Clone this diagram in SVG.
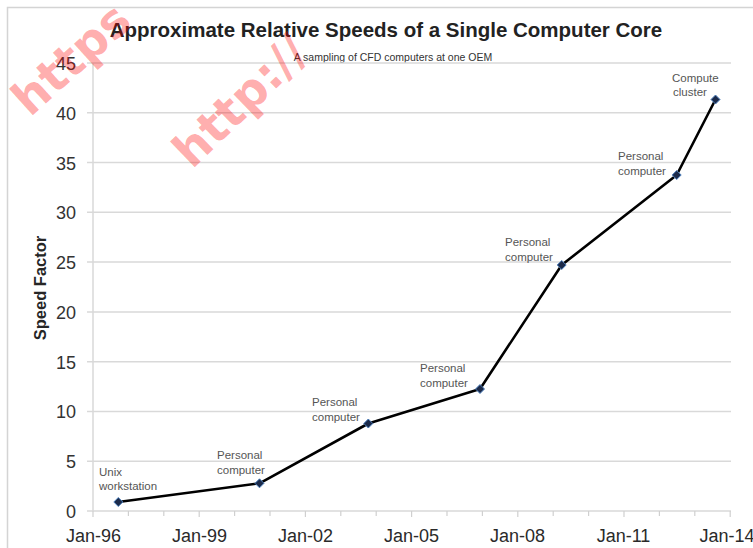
<svg xmlns="http://www.w3.org/2000/svg" width="753" height="548" viewBox="0 0 753 548">
<style>
.grid{stroke:#d9d9d9;stroke-width:1.5;fill:none}
.tick{stroke:#d0d0d0;stroke-width:1.2}
.ylab{font-family:"Liberation Sans",Arial,sans-serif;font-size:18px;fill:#333;text-anchor:end}
.xlab{font-family:"Liberation Sans",Arial,sans-serif;font-size:18px;fill:#2a2a2a;text-anchor:middle}
.dlab{font-family:"Liberation Sans",Arial,sans-serif;font-size:11.5px;fill:#555}
.wm{font-family:"DejaVu Sans",sans-serif;font-weight:bold;font-size:47px;fill:#ff0000;fill-opacity:0.33}
.series{fill:none;stroke:#000;stroke-width:2.6;stroke-linejoin:round;stroke-linecap:round}
</style>
<defs>
<path id="dia" d="M0,-4.5 L4.5,0 L0,4.5 L-4.5,0 Z" fill="#1b2a4a" stroke="#4f81bd" stroke-width="1"/>
</defs>
<rect width="753" height="548" fill="#fff"/>
<rect x="7.5" y="7.5" width="800" height="600" fill="none" stroke="#d4d4d4" stroke-width="1.5"/>

<g id="title">
<text x="386" y="37" text-anchor="middle" font-family="'Liberation Sans',Arial,sans-serif" font-weight="bold" font-size="20.5" fill="#222">Approximate Relative Speeds of a Single Computer Core</text>
<text x="393" y="60.5" text-anchor="middle" font-family="'Liberation Sans',Arial,sans-serif" font-size="10.5" fill="#333">A sampling of CFD computers at one OEM</text>
</g>

<g id="gridlines">
<path class="grid" d="M87,63H731M87,112.8H731M87,162.5H731M87,212.3H731M87,262.1H731M87,311.9H731M87,361.7H731M87,411.4H731M87,461.2H731M87,511H731"/>
<path class="grid" d="M93,63V511"/>
<path class="tick" d="M93,511V517M128.4,511V516M163.8,511V516M199.2,511V517M234.6,511V516M270,511V516M305.4,511V517M340.8,511V516M376.2,511V516M411.6,511V517M447,511V516M482.4,511V516M517.8,511V517M553.2,511V516M588.6,511V516M624,511V517M659.4,511V516M694.8,511V516M730.2,511V517"/>
</g>

<g id="y-axis">
<text class="ylab" x="76" y="70">45</text>
<text class="ylab" x="76" y="119.8">40</text>
<text class="ylab" x="76" y="169.5">35</text>
<text class="ylab" x="76" y="219.3">30</text>
<text class="ylab" x="76" y="269.1">25</text>
<text class="ylab" x="76" y="318.9">20</text>
<text class="ylab" x="76" y="368.7">15</text>
<text class="ylab" x="76" y="418.4">10</text>
<text class="ylab" x="76" y="468.2">5</text>
<text class="ylab" x="76" y="518">0</text>
<text transform="translate(46,288) rotate(-90)" text-anchor="middle" font-family="'Liberation Sans',Arial,sans-serif" font-weight="bold" font-size="16.5" fill="#262626">Speed Factor</text>
</g>

<g id="x-axis">
<text class="xlab" x="93.5" y="542">Jan-96</text>
<text class="xlab" x="199.5" y="542">Jan-99</text>
<text class="xlab" x="305.5" y="542">Jan-02</text>
<text class="xlab" x="411.5" y="542">Jan-05</text>
<text class="xlab" x="517.5" y="542">Jan-08</text>
<text class="xlab" x="623.5" y="542">Jan-11</text>
<text class="xlab" x="727" y="542">Jan-14</text>
</g>

<g id="connectors">
<polyline class="series" points="118.3,502 259.5,483.3 368.3,423.5 480,389 561.7,265 676.7,175 715.5,99.5"/>
</g>

<g id="p1"><use href="#dia" x="118.3" y="502"/><text class="dlab" x="99" y="476">Unix</text><text class="dlab" x="99" y="490">workstation</text></g>
<g id="p2"><use href="#dia" x="259.5" y="483.3"/><text class="dlab" x="217" y="459">Personal</text><text class="dlab" x="217" y="474">computer</text></g>
<g id="p3"><use href="#dia" x="368.3" y="423.5"/><text class="dlab" x="312" y="406">Personal</text><text class="dlab" x="312" y="421">computer</text></g>
<g id="p4"><use href="#dia" x="480" y="389"/><text class="dlab" x="420" y="372">Personal</text><text class="dlab" x="420" y="387">computer</text></g>
<g id="p5"><use href="#dia" x="561.7" y="265"/><text class="dlab" x="505" y="246">Personal</text><text class="dlab" x="505" y="261">computer</text></g>
<g id="p6"><use href="#dia" x="676.7" y="175"/><text class="dlab" x="618" y="160">Personal</text><text class="dlab" x="618" y="175">computer</text></g>
<g id="p7"><use href="#dia" x="715.5" y="99.5"/><text class="dlab" x="672" y="82">Compute</text><text class="dlab" x="673" y="96">cluster</text></g>

<g id="watermarks">
<text class="wm" transform="translate(30,118) rotate(-42)">https</text>
<text class="wm" transform="translate(192,170) rotate(-44)">http://</text>
</g>
</svg>
